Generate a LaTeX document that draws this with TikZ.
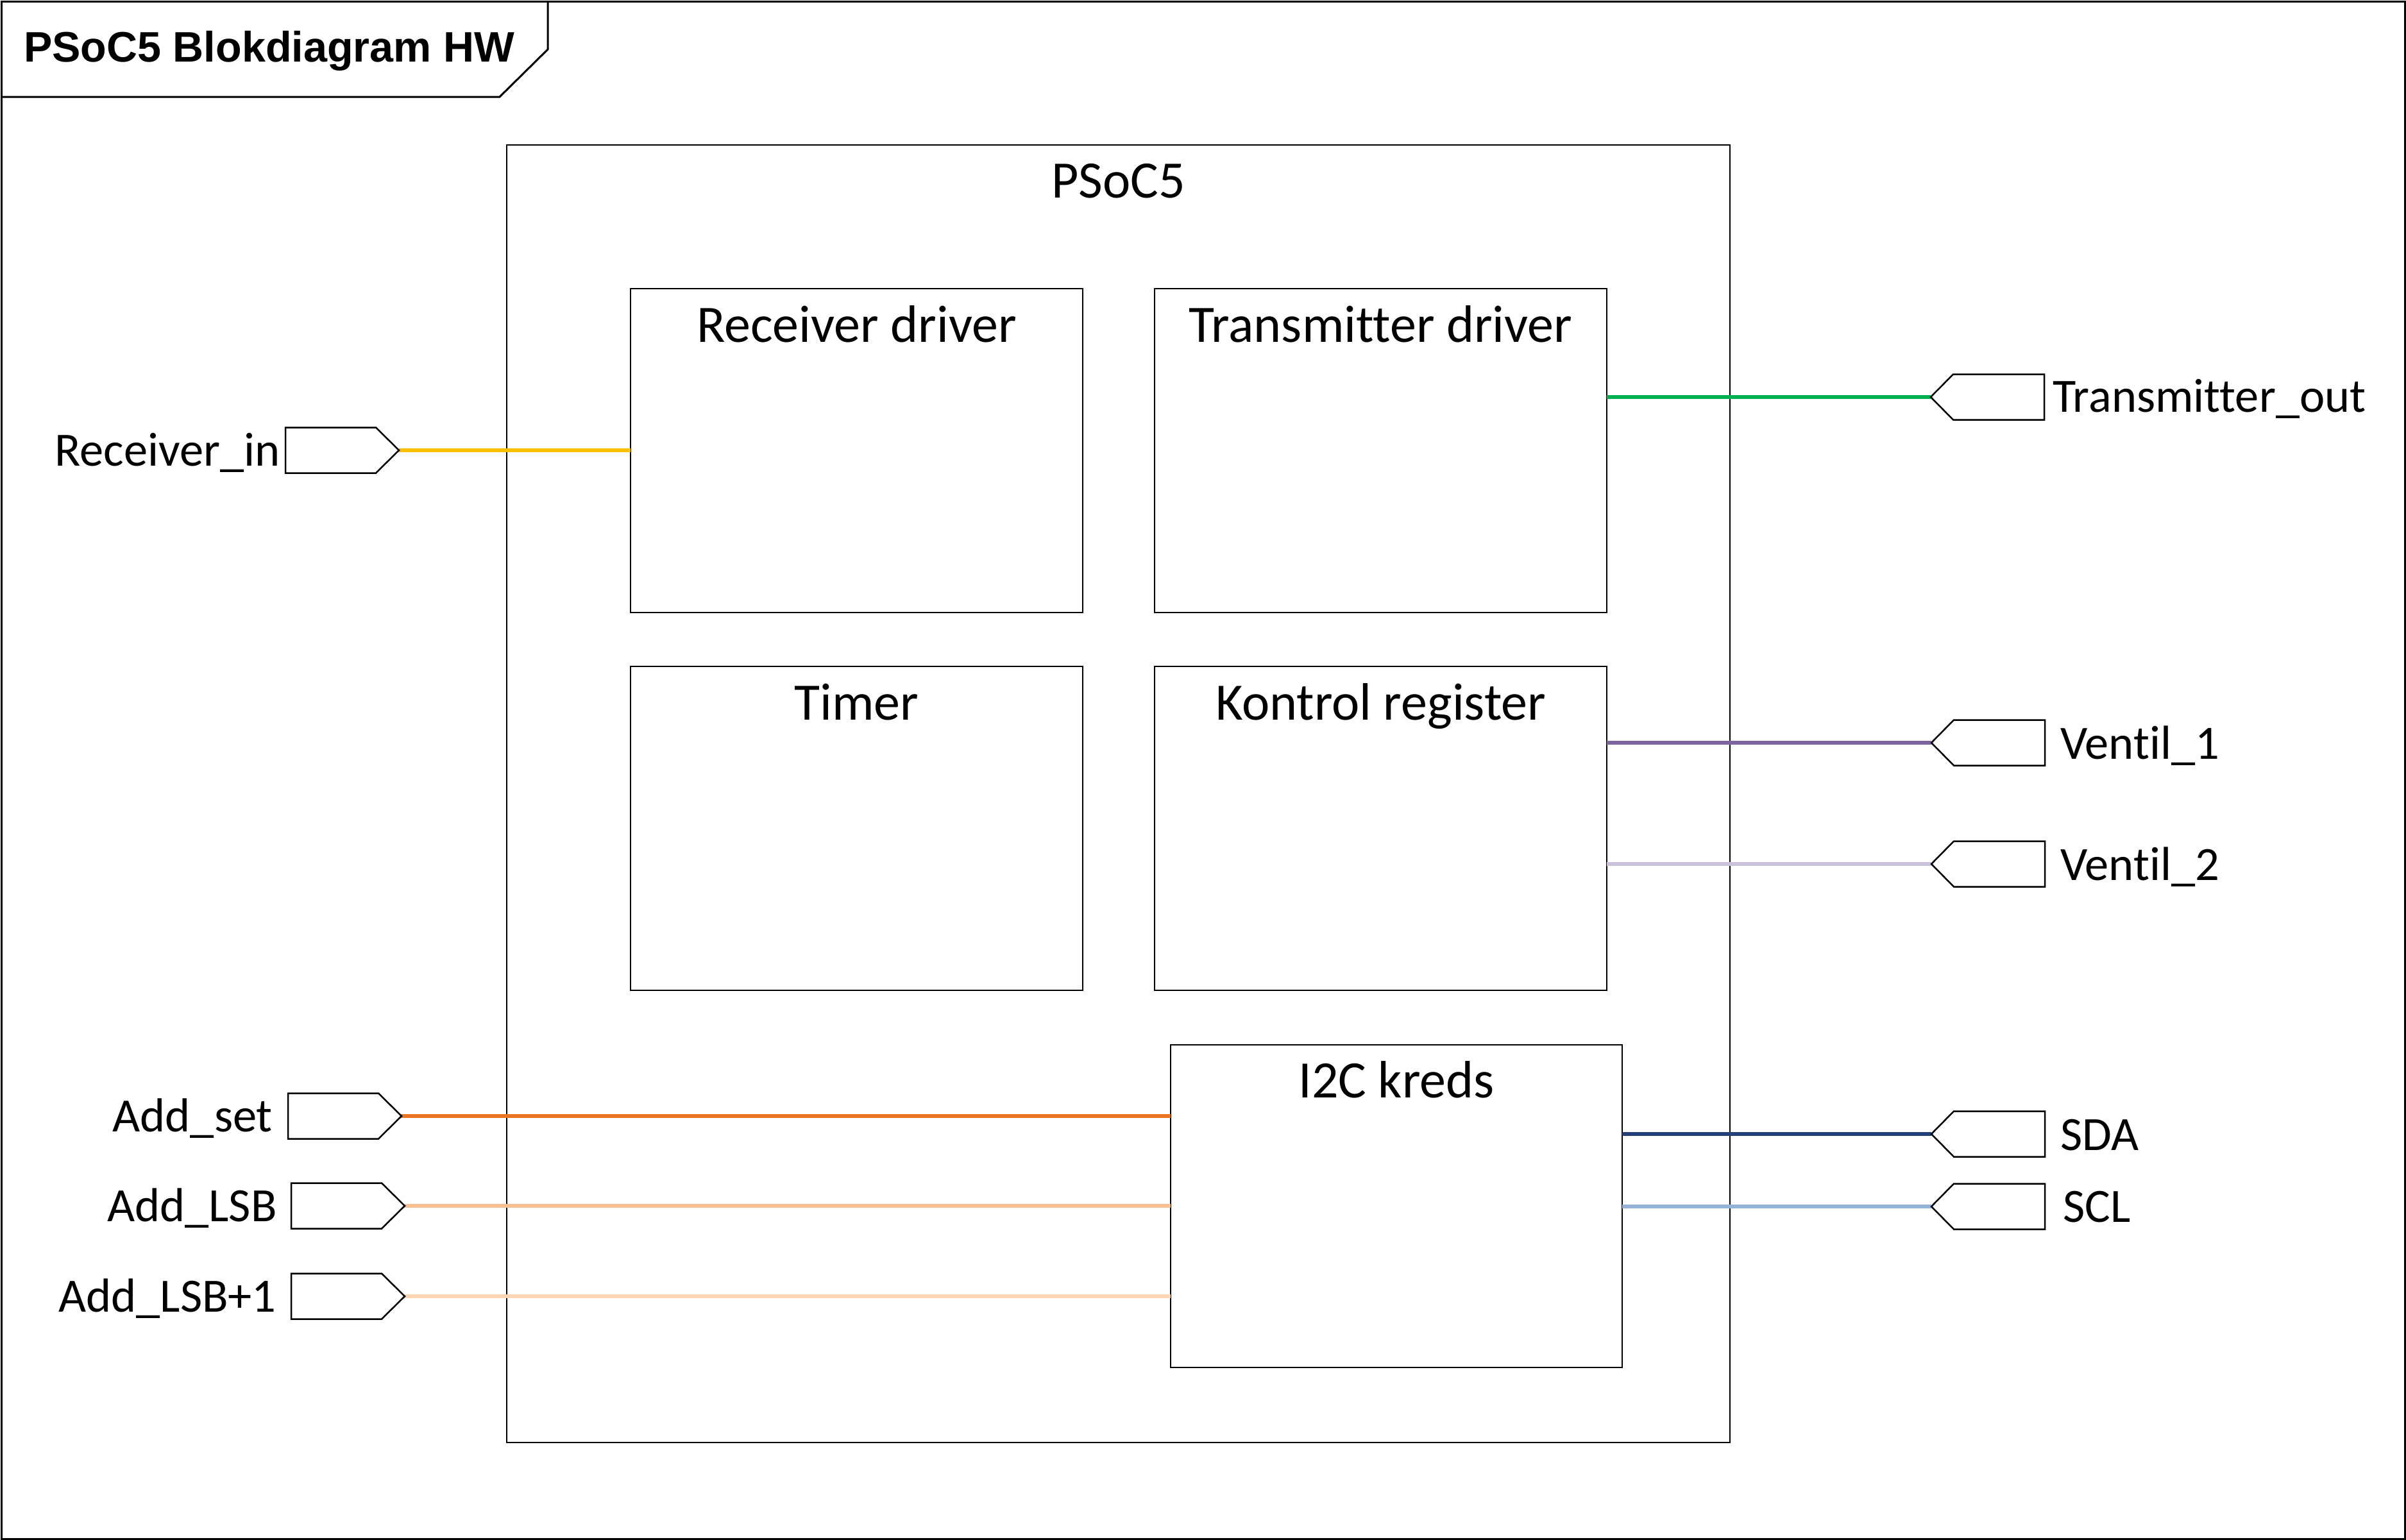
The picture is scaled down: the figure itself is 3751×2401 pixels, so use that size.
\documentclass[tikz,border=0pt]{standalone}
\usepackage{fontspec}
\setmainfont{Carlito}[Ligatures=NoCommon]
\newfontfamily\titlefont{Liberation Sans}
\usetikzlibrary{calc}
\definecolor{cyellow}{HTML}{FFC000}
\definecolor{cgreen}{HTML}{00B050}
\definecolor{cpurple}{HTML}{8064A2}
\definecolor{clavender}{HTML}{CCC1DA}
\definecolor{cnavy}{HTML}{223F7A}
\definecolor{cskyblue}{HTML}{95B3D7}
\definecolor{corange}{HTML}{E97422}
\definecolor{cpeach}{HTML}{FAC090}
\definecolor{cpeachlight}{HTML}{FCD5B4}
\tikzset{
  blk/.style={draw=black, line width=2.5pt, fill=white, inner sep=0pt, outer sep=0pt},
  blktitle/.style={anchor=base, inner sep=0pt, font=\fontsize{82}{98}\selectfont},
  portshape/.style={draw=black, line width=2.5pt, fill=white, line join=miter},
  portlabel/.style={inner sep=0pt, font=\fontsize{74.5}{89}\selectfont},
  wire/.style={line width=5.5pt},
  frame/.style={draw=black, line width=3pt}
}
\newcommand{\inportshape}[3]{%
  \draw[portshape] (#2,#3-35.5) -- (#2+141,#3-35.5) -- (#2+177,#3) -- (#2+141,#3+35.5) -- (#2,#3+35.5) -- cycle;
  \coordinate (#1) at (#2+177,#3);}
\newcommand{\outportshape}[3]{%
  \draw[portshape] (#2,#3) -- (#2+35,#3-35.5) -- (#2+177,#3-35.5) -- (#2+177,#3+35.5) -- (#2+35,#3+35.5) -- cycle;
  \coordinate (#1) at (#2,#3);}
\begin{document}
\begin{tikzpicture}[x=1pt,y=-1pt]
\useasboundingbox (0,0) rectangle (3751,2401);
\fill[white] (0,0) rectangle (3751,2401);
% outer frame and title tab
\draw[frame] (2,2) rectangle (3749,2399);
\draw[frame] (854,2) -- (854,77) -- (779,151) -- (2,151);
\node[anchor=base west, inner sep=0pt, font=\titlefont\bfseries\fontsize{66.5}{80}\selectfont] (title) at (37,96) {PSoC5 Blokdiagram HW};

% PSoC5 container
\node[blk, minimum width=1907, minimum height=2023] (psoc) at (1743.5,1237.5) {};
\node[blktitle] (psoct) at ($(psoc.north)+(0,82)$) {PSoC5};

% inner blocks
\node[blk, minimum width=705, minimum height=505] (rxd) at (1335.5,702.5) {};
\node[blktitle] (rxdt) at ($(rxd.north)+(0,83)$) {Receiver driver};
\node[blk, minimum width=705, minimum height=505] (txd) at (2152.5,702.5) {};
\node[blktitle] (txdt) at ($(txd.north)+(0,83)$) {Transmitter driver};
\node[blk, minimum width=705, minimum height=505] (tmr) at (1335.5,1291.5) {};
\node[blktitle] (tmrt) at ($(tmr.north)+(0,83)$) {Timer};
\node[blk, minimum width=705, minimum height=505] (kreg) at (2152.5,1291.5) {};
\node[blktitle] (kregt) at ($(kreg.north)+(0,83)$) {Kontrol register};
\node[blk, minimum width=704, minimum height=503] (i2c) at (2177,1880.5) {};
\node[blktitle] (i2ct) at ($(i2c.north)+(0,82)$) {I2C kreds};

% connectors (drawn first so ports sit on top)
\coordinate (rinp) at (622,702);
\coordinate (asetp) at (625,1740);
\coordinate (alsbp) at (630,1880);
\coordinate (alsb1p) at (630,2021);
\coordinate (toutp) at (3010,619);
\coordinate (v1p) at (3011,1158);
\coordinate (v2p) at (3011,1347);
\coordinate (sdap) at (3011,1768);
\coordinate (sclp) at (3011,1881);
\draw[wire, cyellow] (rinp) -- (rinp -| rxd.west);
\draw[wire, corange] (asetp) -- (asetp -| i2c.west);
\draw[wire, cpeach] (alsbp) -- (alsbp -| i2c.west);
\draw[wire, cpeachlight] (alsb1p) -- (alsb1p -| i2c.west);
\draw[wire, cgreen] (toutp -| txd.east) -- (toutp);
\draw[wire, cpurple] (v1p -| kreg.east) -- (v1p);
\draw[wire, clavender] (v2p -| kreg.east) -- (v2p);
\draw[wire, cnavy] (sdap -| i2c.east) -- (sdap);
\draw[wire, cskyblue] (sclp -| i2c.east) -- (sclp);

% input ports (left)
\inportshape{rin}{445}{702}
\inportshape{aset}{449}{1740}
\inportshape{alsb}{454}{1880}
\inportshape{alsbb}{454}{2021}
\node[portlabel, anchor=base east] (rinl) at (437,726) {Receiver\_in};
\node[portlabel, anchor=base east] (asetl) at (425,1764) {Add\_set};
\node[portlabel, anchor=base east] (alsbl) at (432,1904) {Add\_LSB};
\node[portlabel, anchor=base east] (alsbbl) at (431,2045) {Add\_LSB+1};

% output ports (right)
\outportshape{tout}{3010}{619}
\outportshape{vone}{3011}{1158}
\outportshape{vtwo}{3011}{1347}
\outportshape{sda}{3011}{1768}
\outportshape{scl}{3011}{1881}
\node[portlabel, anchor=base west] (toutl) at (3200,642) {Transmitter\_out};
\node[portlabel, anchor=base west] (vonel) at (3212,1183) {Ventil\_1};
\node[portlabel, anchor=base west] (vtwol) at (3212,1372) {Ventil\_2};
\node[portlabel, anchor=base west] (sdal) at (3212,1793) {SDA};
\node[portlabel, anchor=base west] (scll) at (3216,1905) {SCL};
\end{tikzpicture}
\end{document}
